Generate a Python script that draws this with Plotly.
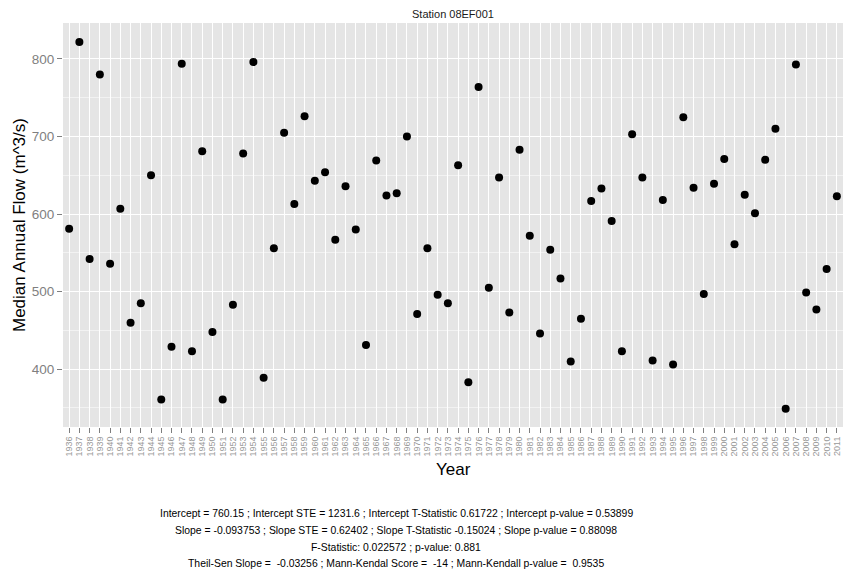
import plotly.graph_objects as go

years = list(range(1936, 2012))
flow = [581, 822, 542, 780, 536, 607, 460, 485, 650, 361,
        429, 794, 423, 681, 448, 361, 483, 678, 796, 389,
        556, 705, 613, 726, 643, 654, 567, 636, 580, 431,
        669, 624, 627, 700, 471, 556, 496, 485, 663, 383,
        764, 505, 647, 473, 683, 572, 446, 554, 517, 410,
        465, 617, 633, 591, 423, 703, 647, 411, 618, 406,
        725, 634, 497, 639, 671, 561, 625, 601, 670, 710,
        349, 793, 499, 477, 529, 623]
y_ticks = [400, 500, 600, 700, 800]
y_minor = [350, 450, 550, 650, 750]
stats_lines = [
    "Intercept = 760.15 ; Intercept STE = 1231.6 ; Intercept T-Statistic 0.61722 ; Intercept p-value = 0.53899",
    "Slope = -0.093753 ; Slope STE = 0.62402 ; Slope T-Statistic -0.15024 ; Slope p-value = 0.88098",
    "F-Statistic: 0.022572 ; p-value: 0.881",
    "Theil-Sen Slope = \u00a0-0.03256 ; Mann-Kendal Score = \u00a0-14 ; Mann-Kendall p-value = \u00a00.9535",
]

FONT = "Liberation Sans, Arial, sans-serif"
W, H = 843, 573
L, R, T, B = 63, 0, 23, 146
PW, PH = W - L - R, H - T - B

fig = go.Figure()
fig.add_trace(go.Scatter(
    x=years, y=flow, mode="markers",
    marker=dict(color="black", size=8, line=dict(width=0)),
    showlegend=False, hoverinfo="x+y"))

fig.update_layout(
    width=W, height=H,
    margin=dict(l=L, r=R, t=T, b=B, pad=0),
    paper_bgcolor="white", plot_bgcolor="#E5E5E5",
    font=dict(family=FONT),
    showlegend=False,
    xaxis=dict(
        range=[1935.4, 2011.6], tickmode="array", tickvals=years,
        ticktext=[str(y) for y in years], tickangle=-90,
        tickfont=dict(size=9, color="#999999"),
        ticks="outside", ticklen=5, tickcolor="#7F7F7F", tickwidth=1,
        showgrid=True, gridcolor="white", gridwidth=1,
        zeroline=False, showline=False),
    yaxis=dict(
        range=[325.4, 846.4], tickmode="array", tickvals=y_ticks,
        tickfont=dict(size=13.5, color="#7F7F7F"),
        ticks="outside", ticklen=5, tickcolor="#7F7F7F", tickwidth=1,
        showgrid=True, gridcolor="white", gridwidth=1.1,
        minor=dict(tickmode="array", tickvals=y_minor, showgrid=True,
                   gridcolor="#F2F2F2", gridwidth=0.6, ticks=""),
        zeroline=False, showline=False),
)

ann = []
ann.append(dict(text="Station 08EF001", xref="paper", yref="paper",
                x=0.5, y=1 + (T - 14) / PH, xanchor="center", yanchor="middle",
                showarrow=False, font=dict(size=11, color="#1A1A1A", family=FONT)))
ann.append(dict(text="Median Annual Flow (m^3/s)", xref="paper", yref="paper",
                x=(19 - L) / PW, y=0.5, xanchor="center", yanchor="middle",
                textangle=-90, showarrow=False,
                font=dict(size=17, color="black", family=FONT)))
ann.append(dict(text="Year", xref="paper", yref="paper",
                x=0.5, y=-(469 - (T + PH)) / PH, xanchor="center", yanchor="middle",
                showarrow=False, font=dict(size=17, color="black", family=FONT)))
line_y = [513, 530, 547, 563]
for txt, yy in zip(stats_lines, line_y):
    ann.append(dict(text=txt, xref="paper", yref="paper",
                    x=(396 - L) / PW, y=-(yy - (T + PH)) / PH,
                    xanchor="center", yanchor="middle", showarrow=False,
                    font=dict(size=10.4, color="black", family=FONT)))
fig.update_layout(annotations=ann)

fig.write_html("out.html")
